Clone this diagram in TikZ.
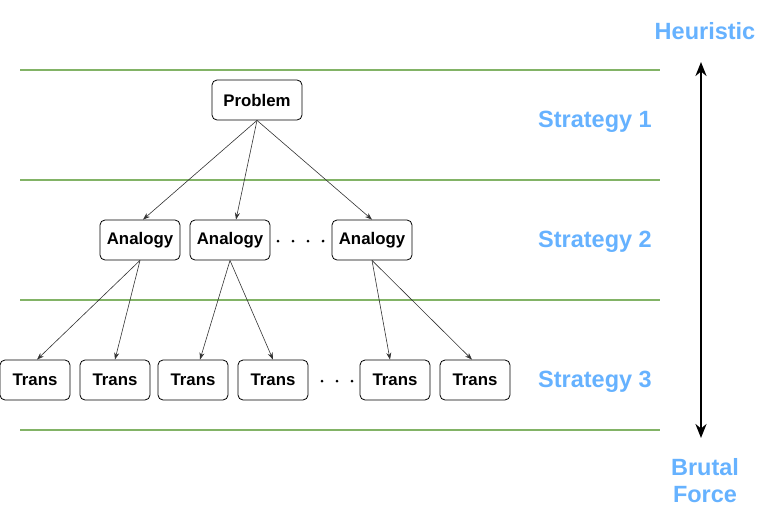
\documentclass[tikz,border=0pt]{standalone}
\usepackage{fontspec}
\setmainfont{Liberation Sans}
\usetikzlibrary{arrows.meta}
\definecolor{lanegreen}{HTML}{82B366}
\definecolor{stratblue}{HTML}{66B2FF}
\tikzset{
  box/.style={draw, rounded corners=5pt, minimum height=40pt, inner sep=0pt, fill=white, line width=0.8pt, font=\fontsize{16.8}{18}\selectfont\bfseries},
  lane/.style={draw=lanegreen, line width=2pt},
  tag/.style={text=stratblue, align=center, font=\fontsize{23.5}{27}\selectfont\bfseries},
  link/.style={-{Stealth[length=7pt,width=5pt]}, line width=0.6pt, draw=black!80}
}
\begin{document}
\begin{tikzpicture}[x=1pt, y=-1pt]
\useasboundingbox (0,0) rectangle (771,525);
% level separators
\foreach \ly in {70,180,300,430}
  \draw[lane] (20,\ly) -- (660,\ly);
% tree
\node[box, minimum width=90pt] (prob) at (257,100) {Problem};
\node[box, minimum width=80pt] (an1) at (140,240) {Analogy};
\node[box, minimum width=80pt] (an2) at (230,240) {Analogy};
\node[box, minimum width=80pt] (an3) at (372,240) {Analogy};
\node[box, minimum width=70pt] (tr1) at (35,380) {Trans};
\node[box, minimum width=70pt] (tr2) at (115,380) {Trans};
\node[box, minimum width=70pt] (tr3) at (193,380) {Trans};
\node[box, minimum width=70pt] (tr4) at (273,380) {Trans};
\node[box, minimum width=70pt] (tr5) at (395,380) {Trans};
\node[box, minimum width=70pt] (tr6) at (475,380) {Trans};
\foreach \dx in {278,293,308,323}
  \fill (\dx,241) circle (1.5pt);
\foreach \dx in {322,337,352}
  \fill (\dx,381) circle (1.5pt);
\draw[link] (prob.south) -- ([xshift=3pt]an1.north);
\draw[link] (prob.south) -- ([xshift=6pt]an2.north);
\draw[link] (prob.south) -- (an3.north);
\draw[link] (an1.south) -- ([xshift=2pt]tr1.north);
\draw[link] (an1.south) -- (tr2.north);
\draw[link] (an2.south) -- ([xshift=7pt]tr3.north);
\draw[link] (an2.south) -- (tr4.north);
\draw[link] (an3.south) -- ([xshift=-5pt]tr5.north);
\draw[link] (an3.south) -- ([xshift=-3pt]tr6.north);
% strategy labels
\node[tag] (s1) at (595,122) {Strategy 1};
\node[tag] (s2) at (595,242) {Strategy 2};
\node[tag] (s3) at (595,382) {Strategy 3};
\node[tag] (heur) at (705,31) {Heuristic};
\node[tag] (brut) at (705,481) {Brutal\\Force};
\draw[{Stealth[length=14pt,width=11pt]}-{Stealth[length=14pt,width=11pt]}, line width=2.4pt] (701,62) -- (701,438);
\end{tikzpicture}
\end{document}
